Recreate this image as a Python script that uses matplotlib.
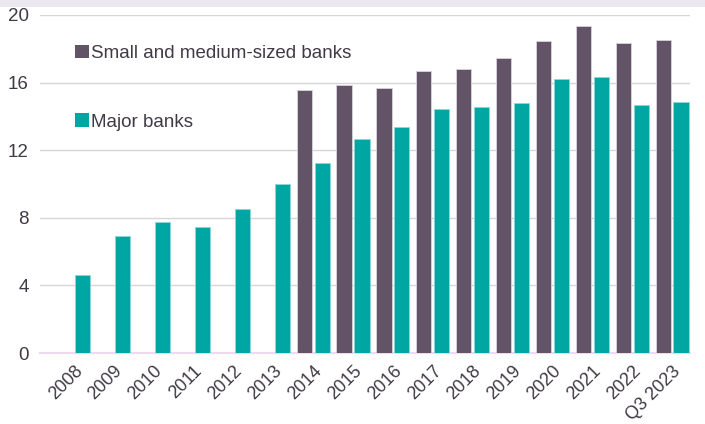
import matplotlib
matplotlib.use("Agg")
import matplotlib.pyplot as plt
from matplotlib.patches import Rectangle, Patch
import numpy as np

plt.rcParams['font.family'] = ['Liberation Sans', 'DejaVu Sans']

categories = ["2008", "2009", "2010", "2011", "2012", "2013", "2014", "2015",
              "2016", "2017", "2018", "2019", "2020", "2021", "2022", "Q3 2023"]
small_medium = [None, None, None, None, None, None, 15.55, 15.85, 15.7, 16.7,
                16.8, 17.45, 18.45, 19.35, 18.35, 18.5]
major = [4.6, 6.9, 7.75, 7.45, 8.5, 10.0, 11.25, 12.65, 13.4, 14.45,
         14.55, 14.8, 16.2, 16.35, 14.65, 14.85]
yticks = [0, 4, 8, 12, 16, 20]

PURPLE = "#625366"
TEAL = "#00A6A1"
TEXT = "#403a45"

fig = plt.figure(figsize=(7.05, 4.24), dpi=100)
fig.patch.set_facecolor("white")
fig.patches.append(Rectangle((0, 1 - 7 / 424), 1, 7 / 424, transform=fig.transFigure,
                             facecolor="#ebe7ee", edgecolor="none", zorder=0))

ax = fig.add_axes([40 / 705, 1 - 353 / 424, 650 / 705, 338 / 424])
x = np.arange(len(categories))
w = 0.38
off = 0.225

sm_idx = [i for i, v in enumerate(small_medium) if v is not None]
sm_vals = [small_medium[i] for i in sm_idx]
ax.bar(np.array(sm_idx) - off, sm_vals, width=w, color=PURPLE,
       edgecolor="#d8d2da", linewidth=0.6, zorder=3)
ax.bar(x + off, major, width=w, color=TEAL, edgecolor="#8fd6d3",
       linewidth=0.6, zorder=3)

ax.set_ylim(0, 20)
ax.set_xlim(-0.85, 15.45)
ax.set_yticks(yticks)
ax.set_yticklabels([str(t) for t in yticks], fontsize=13.5, color=TEXT)
ax.set_xticks(x)
ax.set_xticklabels(categories, rotation=45, ha="right", va="top",
                   rotation_mode="anchor", fontsize=13, color=TEXT)
ax.tick_params(axis="x", length=0, pad=7)
ax.tick_params(axis="y", length=0, pad=8)
ax.grid(axis="y", color="#d6d6d6", linewidth=1.0, zorder=0)
ax.set_axisbelow(True)
for s in ["top", "right", "left"]:
    ax.spines[s].set_visible(False)
ax.spines["bottom"].set_color("#eed9ef")
ax.spines["bottom"].set_linewidth(1.5)

handles = [Patch(facecolor=PURPLE, edgecolor="none"), Patch(facecolor=TEAL, edgecolor="none")]
leg = ax.legend(handles, ["Small and medium-sized banks", "Major banks"],
                loc="upper left", bbox_to_anchor=(0.043, 0.934), frameon=False,
                fontsize=13.5, handlelength=0.7, handleheight=0.7,
                handletextpad=0.15, labelspacing=2.75, borderaxespad=0)
for t in leg.get_texts():
    t.set_color(TEXT)

fig.savefig("out.png", dpi=100)
